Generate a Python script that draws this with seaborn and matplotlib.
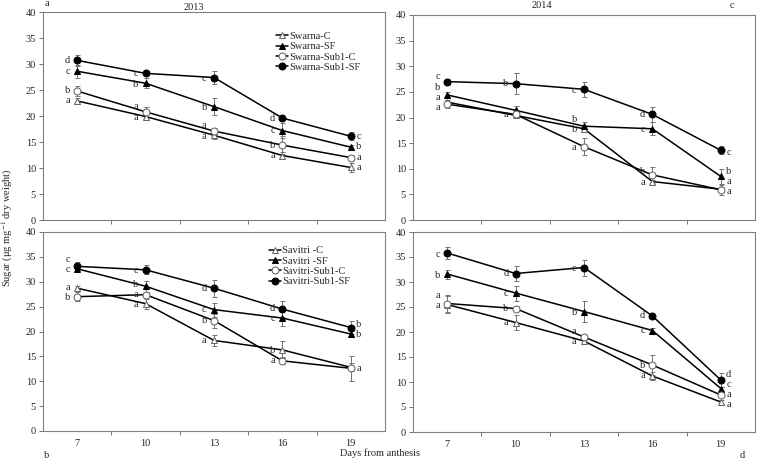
import numpy as np
import pandas as pd
import seaborn as sns
import matplotlib.pyplot as plt

# sugar content (ug/mg dry weight) in grains, days from anthesis
days = [7, 10, 13, 16, 19]

swarna_names = ['Swarna-C', 'Swarna-SF', 'Swarna-Sub1-C', 'Swarna-Sub1-SF']
savitri_names = ['Savitri -C', 'Savitri -SF', 'Savitri-Sub1-C', 'Savitri-Sub1-SF']

# panel a : Swarna 2013
a_c = [22.9, 19.9, 16.3, 12.4, 10.1]
a_sf = [28.6, 26.3, 21.8, 17.2, 14.0]
a_sub1c = [24.8, 20.8, 17.1, 14.4, 12.0]
a_sub1sf = [30.7, 28.2, 27.4, 19.6, 16.1]
a_err_c = [0.5, 0.6, 0.8, 0.6, 0.8]
a_err_sf = [1.2, 1.0, 1.7, 1.5, 0.5]
a_err_sub1c = [0.9, 1.0, 0.5, 1.8, 0.5]
a_err_sub1sf = [1.1, 0.4, 1.2, 0.3, 0.8]
a_let_c = ['a', 'a', 'a', 'a', 'a']
a_let_sf = ['c', 'b', 'b', 'c', 'b']
a_let_sub1c = ['b', 'a', 'a', 'b', 'a']
a_let_sub1sf = ['d', 'c', 'c', 'd', 'c']

# panel c : Swarna 2014
c_c = [23.0, 20.4, 17.8, 7.5, 6.0]
c_sf = [24.4, 21.4, 18.3, 17.8, 8.5]
c_sub1c = [22.6, 20.6, 14.3, 8.8, 5.9]
c_sub1sf = [27.0, 26.6, 25.5, 20.6, 13.6]
c_err_c = [0.5, 0.5, 0.5, 0.4, 0.5]
c_err_sf = [0.5, 0.8, 0.8, 1.3, 1.4]
c_err_sub1c = [0.8, 0.5, 1.7, 1.6, 1.0]
c_err_sub1sf = [0.6, 2.1, 1.5, 1.5, 0.8]
c_let_c = ['a', '', 'b', 'a', 'a']
c_let_sf = ['b', '', 'b', 'c', 'b']
c_let_sub1c = ['a', 'a', 'a', 'b', 'a']
c_let_sub1sf = ['c', 'b', 'c', 'd', 'c']

# panel b : Savitri 2013
b_c = [28.7, 25.6, 18.2, 16.3, 12.8]
b_sf = [32.6, 29.1, 24.4, 22.7, 19.5]
b_sub1c = [27.0, 27.4, 22.2, 14.1, 12.6]
b_sub1sf = [33.1, 32.4, 28.7, 24.5, 20.8]
b_err_c = [0.5, 1.0, 1.1, 1.7, 0.8]
b_err_sf = [0.5, 1.1, 1.4, 1.5, 0.7]
b_err_sub1c = [0.9, 0.5, 1.4, 0.7, 2.5]
b_err_sub1sf = [0.8, 0.9, 1.7, 1.6, 1.3]
b_let_c = ['a', 'a', 'a', 'b', '']
b_let_sf = ['c', 'b', 'c', 'c', 'b']
b_let_sub1c = ['b', 'a', 'b', 'a', 'a']
b_let_sub1sf = ['c', 'c', 'd', 'd', 'b']

# panel d : Savitri 2014
d_c = [25.5, 21.9, 18.2, 11.2, 6.0]
d_sf = [31.6, 27.8, 24.1, 20.3, 8.7]
d_sub1c = [25.7, 24.7, 19.0, 13.4, 7.4]
d_sub1sf = [35.8, 31.7, 32.9, 23.2, 10.4]
d_err_c = [1.7, 1.5, 0.4, 0.8, 0.4]
d_err_sf = [0.9, 1.5, 2.1, 0.5, 0.4]
d_err_sub1c = [1.7, 0.5, 0.5, 2.0, 0.4]
d_err_sub1sf = [1.2, 1.5, 1.6, 0.4, 1.4]
d_let_c = ['a', 'a', 'a', 'a', 'a']
d_let_sf = ['b', 'c', 'b', 'c', 'c']
d_let_sub1c = ['a', 'b', 'a', 'b', 'a']
d_let_sub1sf = ['c', 'd', 'c', 'd', 'd']

sns.set_style('white')
plt.rcParams['font.family'] = ['Liberation Serif', 'DejaVu Serif']
plt.rcParams['mathtext.fontset'] = 'stix'
FS = 7.5

# open triangle, filled triangle, open circle, filled circle
marker_styles = [dict(marker='^', markerfacecolor='white', markeredgecolor='0.4'),
                 dict(marker='^', markerfacecolor='black', markeredgecolor='black'),
                 dict(marker='o', markerfacecolor='white', markeredgecolor='0.4'),
                 dict(marker='o', markerfacecolor='black', markeredgecolor='black')]

fig = plt.figure(figsize=(7.58, 4.62), dpi=100)

def px_axes(left, top, right, bottom):
    return fig.add_axes([left / 758, 1 - bottom / 462, (right - left) / 758, (bottom - top) / 462])

def spread_letters(items, gap=2.0):
    # push stacked letters apart so they don't sit on each other
    items = sorted(items, key=lambda t: t[0])
    ys = [t[0] for t in items]
    for k in range(1, len(ys)):
        if ys[k] - ys[k - 1] < gap:
            ys[k] = ys[k - 1] + gap
    shift = (np.mean([t[0] for t in items]) - np.mean(ys)) / 2
    return [(y + shift, t[1]) for y, t in zip(ys, items)]

def draw_panel(ax, names, means, errs, letters, legend_pos=None, xlabels=False):
    pos = np.arange(len(days))
    for k in range(4):
        ax.errorbar(pos, means[k], yerr=errs[k], fmt='none', ecolor='0.45',
                    elinewidth=0.7, capsize=1.8, capthick=0.7, zorder=2)
        df = pd.DataFrame({'pos': pos, 'value': means[k]})
        sns.lineplot(data=df, x='pos', y='value', ax=ax, color='black', linewidth=1.1,
                     markersize=5, errorbar=None, zorder=3,
                     label=names[k] if legend_pos is not None else None, **marker_styles[k])

    # significance letters
    for i in range(len(days)):
        items = [(means[k][i], letters[k][i]) for k in range(4) if letters[k][i]]
        for y, txt in spread_letters(items):
            dx = 5.5 if i == len(days) - 1 else -7
            ax.annotate(txt, (i, y), xytext=(dx, 0), textcoords='offset points',
                        ha='center', va='center', fontsize=FS)

    ax.set_xlim(-0.5, 4.5)
    ax.set_ylim(0, 40)
    ax.set_yticks(range(0, 41, 5))
    ax.set_xticks([0.5, 1.5, 2.5, 3.5])
    ax.set_xticklabels([])
    ax.set_xticks(pos, minor=True)
    if xlabels:
        ax.set_xticklabels([str(d) for d in days], minor=True)
    else:
        ax.set_xticklabels([], minor=True)
    ax.tick_params(axis='both', which='major', direction='out', length=3, width=0.7,
                   color='0.45', labelsize=FS, pad=2)
    ax.tick_params(axis='x', which='minor', length=0, labelsize=FS, pad=6)
    ax.tick_params(axis='y', left=True)
    ax.tick_params(axis='x', bottom=True)
    for s in ax.spines.values():
        s.set_color('0.5')
        s.set_linewidth(0.8)
    ax.set_xlabel('')
    ax.set_ylabel('')

    if legend_pos is not None:
        ax.legend(loc='upper left', bbox_to_anchor=legend_pos, frameon=False, fontsize=FS,
                  handlelength=1.2, handletextpad=0.1, labelspacing=0.1,
                  borderpad=0, borderaxespad=0)
    elif ax.get_legend() is not None:
        ax.get_legend().remove()

ax_a = px_axes(43, 12, 385, 220)
ax_c = px_axes(413, 15, 755, 220)
ax_b = px_axes(43, 232, 385, 431)
ax_d = px_axes(413, 232, 755, 432)

draw_panel(ax_a, swarna_names, [a_c, a_sf, a_sub1c, a_sub1sf],
           [a_err_c, a_err_sf, a_err_sub1c, a_err_sub1sf],
           [a_let_c, a_let_sf, a_let_sub1c, a_let_sub1sf], legend_pos=(0.68, 0.905))
draw_panel(ax_c, swarna_names, [c_c, c_sf, c_sub1c, c_sub1sf],
           [c_err_c, c_err_sf, c_err_sub1c, c_err_sub1sf],
           [c_let_c, c_let_sf, c_let_sub1c, c_let_sub1sf])
draw_panel(ax_b, savitri_names, [b_c, b_sf, b_sub1c, b_sub1sf],
           [b_err_c, b_err_sf, b_err_sub1c, b_err_sub1sf],
           [b_let_c, b_let_sf, b_let_sub1c, b_let_sub1sf], legend_pos=(0.66, 0.93), xlabels=True)
draw_panel(ax_d, savitri_names, [d_c, d_sf, d_sub1c, d_sub1sf],
           [d_err_c, d_err_sf, d_err_sub1c, d_err_sub1sf],
           [d_let_c, d_let_sf, d_let_sub1c, d_let_sub1sf], xlabels=True)

# titles, panel letters and shared axis labels
fig.text(194 / 758, 1 - 7 / 462, '2013', ha='center', va='center', fontsize=FS)
fig.text(542 / 758, 1 - 5 / 462, '2014', ha='center', va='center', fontsize=FS)
fig.text(47 / 758, 1 - 3 / 462, 'a', ha='center', va='center', fontsize=FS)
fig.text(732 / 758, 1 - 5 / 462, 'c', ha='center', va='center', fontsize=FS)
fig.text(47 / 758, 1 - 455 / 462, 'b', ha='center', va='center', fontsize=FS)
fig.text(742 / 758, 1 - 455 / 462, 'd', ha='center', va='center', fontsize=FS)
fig.text(380 / 758, 1 - 453 / 462, 'Days from anthesis', ha='center', va='center', fontsize=FS)
fig.text(7 / 758, 1 - 228 / 462, 'Sugar (μg mg$^{-1}$ dry weight)', rotation=90,
         ha='center', va='center', fontsize=FS)

fig.savefig('out.png', dpi=100)
